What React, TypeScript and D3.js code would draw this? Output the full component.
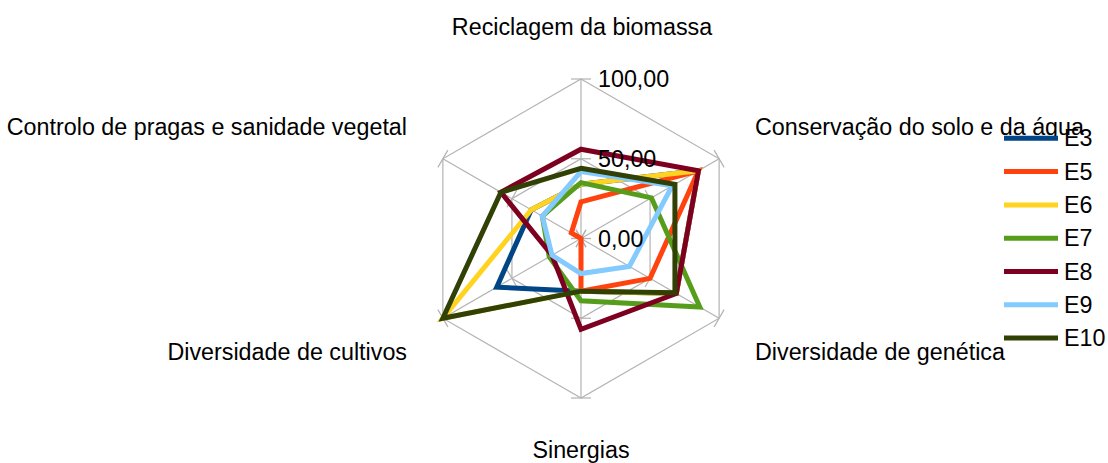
import React from "react";
import * as d3 from "d3";

// axes clockwise from the top
const axes = [
  "Reciclagem da biomassa",
  "Conservação do solo e da água",
  "Diversidade de genética",
  "Sinergias",
  "Diversidade de cultivos",
  "Controlo de pragas e sanidade vegetal",
];

const seriesNames = ["E3", "E5", "E6", "E7", "E8", "E9", "E10"];
const e3 = [34, 85, 69, 33, 61, 36];
const e5 = [23, 85, 50, 33, 0, 7];
const e6 = [34, 85, 69, 33, 100, 36];
const e7 = [35, 51, 86, 39, 23, 28];
const e8 = [56, 85, 69, 57, 21, 58];
const e9 = [42, 66, 35, 22, 21, 28];
const e10 = [44, 68, 68, 33, 100, 58];
const seriesValues = [e3, e5, e6, e7, e8, e9, e10];
const colors = ["#004586", "#ff420e", "#ffd320", "#579d1c", "#7e0021", "#83caff", "#314004"];

const ticks = [0, 50, 100];
const tickLabels = ["0,00", "50,00", "100,00"];

const W = 1108;
const H = 463;
const cx = 581;
const cy = 238.5;
const R = 159.5;
const font = "'Liberation Sans', Arial, sans-serif";
const fs = 23.3;

// where LibreOffice put the category labels
const labelPos: { x: number; y: number; anchor: string }[] = [
  { x: 582, y: 35, anchor: "middle" },
  { x: 755, y: 135, anchor: "start" },
  { x: 755, y: 360, anchor: "start" },
  { x: 581, y: 458, anchor: "middle" },
  { x: 407, y: 360, anchor: "end" },
  { x: 407, y: 135, anchor: "end" },
];

export default function App() {
  const r = d3.scaleLinear().domain([0, 100]).range([0, R]);
  const angle = d3
    .scalePoint<number>()
    .domain(d3.range(axes.length))
    .range([0, (2 * Math.PI * (axes.length - 1)) / axes.length]);

  const pt = (i: number, v: number): [number, number] => {
    const a = angle(i)!;
    return [cx + r(v) * Math.sin(a), cy - r(v) * Math.cos(a)];
  };

  const radial = d3
    .lineRadial<number>()
    .angle((_, i) => angle(i)!)
    .radius((d) => r(d))
    .curve(d3.curveLinearClosed);

  const gridColor = "#b3b3b3";

  return (
    <svg
      width={W}
      height={H}
      style={{ position: "absolute", left: 0, top: 0, background: "#fff" }}
      fontFamily={font}
    >
      <g>
        {ticks.slice(1).map((t) => (
          <path
            key={"h" + t}
            d={radial(axes.map(() => t)) || ""}
            transform={`translate(${cx},${cy})`}
            fill="none"
            stroke={gridColor}
            strokeWidth={1.2}
          />
        ))}
        {axes.map((_, i) => {
          const [x2, y2] = pt(i, 100);
          const a = angle(i)!;
          return (
            <g key={"ax" + i}>
              <line x1={cx} y1={cy} x2={x2} y2={y2} stroke={gridColor} strokeWidth={1.2} />
              {ticks.map((t) => {
                const [px, py] = pt(i, t);
                const dx = 10 * Math.cos(a);
                const dy = 10 * Math.sin(a);
                return (
                  <line
                    key={t}
                    x1={px - dx}
                    y1={py - dy}
                    x2={px + dx}
                    y2={py + dy}
                    stroke={gridColor}
                    strokeWidth={1.2}
                  />
                );
              })}
            </g>
          );
        })}
      </g>
      <g>
        {seriesValues.map((vals, s) => (
          <path
            key={seriesNames[s]}
            d={radial(vals) || ""}
            transform={`translate(${cx},${cy})`}
            fill="none"
            stroke={colors[s]}
            strokeWidth={5}
            strokeLinejoin="miter"
          />
        ))}
      </g>
      <g fontSize={fs} fill="#000">
        {ticks.map((t, k) => (
          <text key={t} x={cx + 17} y={cy - r(t)} dy="0.35em">
            {tickLabels[k]}
          </text>
        ))}
        {axes.map((name, i) => (
          <text key={name} x={labelPos[i].x} y={labelPos[i].y} textAnchor={labelPos[i].anchor}>
            {name}
          </text>
        ))}
      </g>
      <g>
        {seriesNames.map((name, s) => {
          const y = 138.3 + s * 33.3;
          return (
            <g key={name}>
              <line x1={1004} x2={1058} y1={y} y2={y} stroke={colors[s]} strokeWidth={5} />
              <text x={1064} y={y} dy="0.35em" fontSize={fs}>
                {name}
              </text>
            </g>
          );
        })}
      </g>
    </svg>
  );
}
